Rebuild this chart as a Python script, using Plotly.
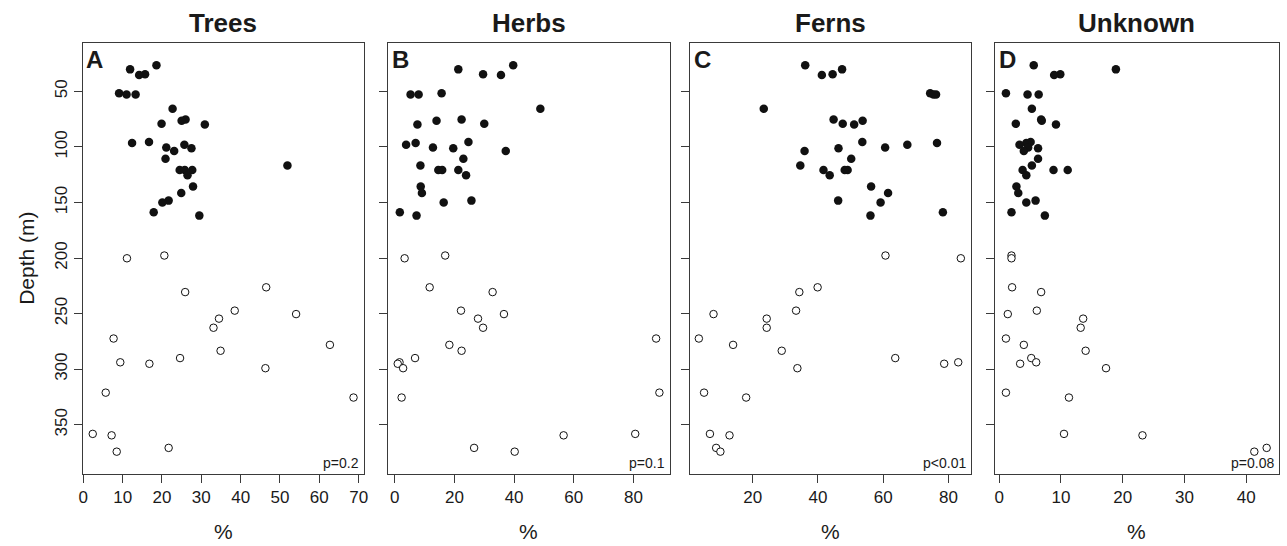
import plotly.graph_objects as go

# ---------------- data ----------------
depth_filled = [26.4, 30.2, 34.6, 35.3, 51.6, 52.8, 52.8, 65.7, 75.4, 76.4, 79.2, 79.8,
                95.6, 96.5, 98.1, 100.6, 101.2, 103.7, 110.6, 116.6, 120.7, 120.7, 120.7,
                125.4, 135.5, 141.4, 148.3, 149.9, 158.7, 161.8]
depth_open = [197.7, 200.2, 226.3, 230.6, 247.3, 250.4, 254.5, 262.7, 272.4, 278.1, 283.4,
              290.0, 293.8, 295.1, 299.1, 321.1, 325.5, 358.2, 359.5, 370.8, 374.2]

trees_filled = [18.6, 11.9, 15.7, 14.2, 9.1, 11.0, 13.3, 22.7, 26.0, 25.0, 19.9, 30.9,
                16.7, 12.4, 25.7, 21.1, 27.5, 23.1, 20.9, 51.9, 27.7, 24.5, 25.8,
                26.5, 27.9, 24.9, 21.7, 20.1, 17.9, 29.5]
herbs_filled = [39.7, 21.3, 29.6, 35.6, 15.7, 8.0, 5.3, 48.8, 22.4, 14.0, 30.0, 7.6,
                24.7, 7.0, 3.8, 12.8, 19.6, 37.2, 23.0, 8.6, 21.3, 15.9, 14.6,
                23.9, 8.7, 9.1, 25.7, 16.4, 1.7, 7.3]
ferns_filled = [36.1, 47.4, 44.5, 41.2, 74.4, 76.2, 75.4, 23.4, 44.8, 53.7, 47.6, 51.1,
                53.6, 76.5, 67.4, 60.6, 46.3, 35.9, 50.2, 34.6, 41.7, 49.1, 48.2,
                43.6, 56.3, 61.5, 46.2, 59.2, 78.3, 56.1]
unknown_filled = [5.6, 18.9, 9.9, 8.9, 1.1, 4.6, 6.4, 5.3, 6.8, 6.9, 2.7, 9.2,
                  5.1, 4.4, 3.3, 4.7, 6.3, 4.0, 6.3, 5.3, 8.8, 11.1, 3.8,
                  4.4, 2.8, 3.1, 5.9, 4.4, 2.0, 7.4]

trees_open = [20.6, 11.1, 46.5, 25.9, 38.5, 54.1, 34.5, 33.1, 7.7, 62.7, 34.9,
              24.6, 9.4, 16.8, 46.3, 5.7, 68.7, 2.4, 7.2, 21.7, 8.5]
herbs_open = [16.9, 3.3, 11.7, 32.8, 22.2, 36.6, 27.9, 29.6, 87.6, 18.3, 22.4,
              6.8, 1.6, 1.0, 2.8, 88.7, 2.3, 80.6, 56.6, 26.6, 40.2]
ferns_open = [60.7, 83.8, 39.9, 34.3, 33.3, 8.0, 24.3, 24.3, 3.5, 14.0, 28.9,
              63.7, 83.0, 78.7, 33.7, 5.1, 18.0, 6.9, 12.9, 8.8, 10.1]
unknown_open = [2.0, 2.0, 2.1, 6.8, 6.1, 1.4, 13.6, 13.2, 1.1, 4.0, 14.0,
                5.2, 6.0, 3.4, 17.3, 1.1, 11.3, 10.5, 23.2, 43.3, 41.3]

panel_titles = ["Trees", "Herbs", "Ferns", "Unknown"]
panel_letters = ["A", "B", "C", "D"]
p_values = ["p=0.2", "p=0.1", "p<0.01", "p=0.08"]
x_ticks = [[0, 10, 20, 30, 40, 50, 60, 70], [0, 20, 40, 60, 80], [20, 40, 60, 80], [0, 10, 20, 30, 40]]
x_ranges = [[-0.2, 71.3], [-2.4, 92.2], [0.7, 86.9], [-0.7, 45.3]]
y_ticks = [50, 100, 150, 200, 250, 300, 350]
y_range = [394.3, 6.2]

filled_x = [trees_filled, herbs_filled, ferns_filled, unknown_filled]
open_x = [trees_open, herbs_open, ferns_open, unknown_open]

# ---------------- layout geometry ----------------
W, H = 1287, 546
px_left = [79, 386, 690, 997]
px_right = [362, 670, 973, 1283]
px_top, px_bot = 42.7, 474
ydom = [1 - px_bot / H, 1 - px_top / H]

FONT = "Liberation Sans, Arial, Helvetica, sans-serif"
INK = "#1a1a1a"
FRAME = "#3a3a3a"

fig = go.Figure()
annotations = []
for i in range(4):
    sfx = "" if i == 0 else str(i + 1)
    xa, ya = "x" + sfx, "y" + sfx
    fig.add_trace(go.Scatter(
        x=filled_x[i], y=depth_filled, mode="markers", xaxis=xa, yaxis=ya,
        marker=dict(size=8.5, color="#111111", line=dict(width=0)), showlegend=False))
    fig.add_trace(go.Scatter(
        x=open_x[i], y=depth_open, mode="markers", xaxis=xa, yaxis=ya,
        marker=dict(size=7.5, color="white", line=dict(width=1, color="#111111")), showlegend=False))

    dom = [px_left[i] / W, px_right[i] / W]
    fig.layout["xaxis" + sfx] = dict(
        domain=dom, range=x_ranges[i], tickvals=x_ticks[i], ticks="outside", ticklen=8,
        tickwidth=1, tickcolor=FRAME, showline=True, linecolor=FRAME, linewidth=1, mirror=True,
        showgrid=False, zeroline=False, anchor=ya,
        tickfont=dict(family=FONT, size=17, color=INK))
    fig.layout["yaxis" + sfx] = dict(
        domain=ydom, range=y_range, tickvals=y_ticks, ticks="outside", ticklen=8,
        tickwidth=1, tickcolor=FRAME, showline=True, linecolor=FRAME, linewidth=1, mirror=True,
        showgrid=False, zeroline=False, anchor=xa, showticklabels=(i == 0), tickangle=-90,
        tickfont=dict(family=FONT, size=17, color=INK))

    cx = (px_left[i] + px_right[i]) / 2 / W
    annotations.append(dict(text="<b>%s</b>" % panel_titles[i], x=cx, y=1 - 23 / H,
                            xref="paper", yref="paper", showarrow=False, xanchor="center",
                            yanchor="middle", font=dict(family=FONT, size=26, color=INK)))
    annotations.append(dict(text="%", x=cx, y=1 - 531 / H, xref="paper", yref="paper",
                            showarrow=False, xanchor="center", yanchor="middle",
                            font=dict(family=FONT, size=21, color=INK)))
    annotations.append(dict(text="<b>%s</b>" % panel_letters[i], x=(px_left[i] + 2) / W,
                            y=1 - (px_top + 1) / H, xref="paper", yref="paper", showarrow=False,
                            xanchor="left", yanchor="top", font=dict(family=FONT, size=24, color=INK)))
    annotations.append(dict(text=p_values[i], x=(px_right[i] - 3) / W, y=1 - (px_bot - 1) / H,
                            xref="paper", yref="paper", showarrow=False, xanchor="right",
                            yanchor="bottom", font=dict(family=FONT, size=14, color=INK)))

annotations.append(dict(text="Depth (m)", x=22 / W, y=1 - 258 / H, xref="paper", yref="paper",
                        showarrow=False, textangle=-90, xanchor="center", yanchor="middle",
                        font=dict(family=FONT, size=21, color=INK)))

fig.update_layout(width=W, height=H, margin=dict(l=0, r=0, t=0, b=0),
                  paper_bgcolor="white", plot_bgcolor="white", annotations=annotations)

fig.write_html("out.html")
